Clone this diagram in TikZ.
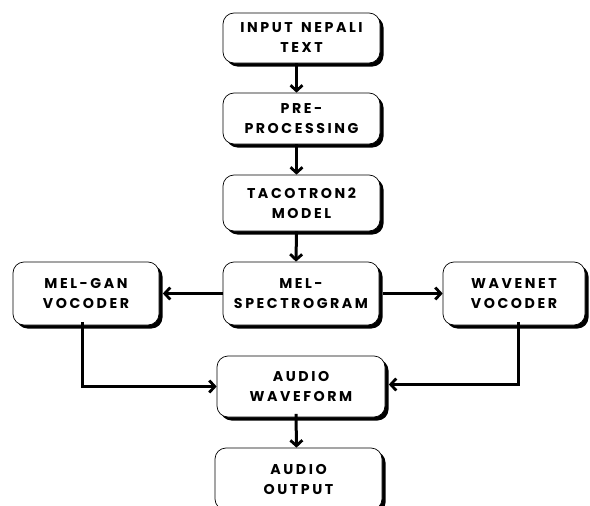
\documentclass[tikz,border=0pt]{standalone}
\usepackage{fontspec}
\newfontfamily\lblfont{Poppins}[LetterSpace=18,UprightFont=* Bold,WordSpace=1.5]
\usetikzlibrary{arrows.meta,shadows}
\begin{document}
\begin{tikzpicture}[x=1pt,y=-1pt,
  box/.style={draw=black,line width=0.7pt,fill=white,rounded corners=11pt,
    align=center,font=\lblfont\fontsize{14.2}{20}\selectfont,inner sep=0pt,
    drop shadow={shadow xshift=3.5pt,shadow yshift=-3.5pt,fill=black,opacity=1}},
  arr/.style={line width=3pt,-{Straight Barb[length=5.5pt,width=12pt,line width=2.8pt]}}]
\useasboundingbox (0,0) rectangle (590,506);
\clip (0,0) rectangle (590,506);
\node[box,minimum width=157pt,minimum height=50pt] (b1) at (301.5,38) {INPUT NEPALI\\TEXT};
\node[box,minimum width=157pt,minimum height=51pt] (b2) at (301.5,118.5) {PRE-\\PROCESSING};
\node[box,minimum width=157pt,minimum height=56pt] (b3) at (301.5,203) {TACOTRON2\\MODEL};
\node[box,minimum width=156pt,minimum height=63pt] (b4) at (301,293.5) {MEL-\\SPECTROGRAM};
\node[box,minimum width=146pt,minimum height=63pt] (mg) at (86,293.5) {MEL-GAN\\VOCODER};
\node[box,minimum width=142pt,minimum height=63pt] (wn) at (514,293.5) {WAVENET\\VOCODER};
\node[box,minimum width=168pt,minimum height=61pt] (wf) at (301,386.5) {AUDIO\\WAVEFORM};
\node[box,minimum width=167pt,minimum height=62pt] (ao) at (298.5,479) {AUDIO\\OUTPUT};
\draw[arr] ([xshift=-5pt]b1.south) -- ([xshift=-5pt]b2.north);
\draw[arr] ([xshift=-5pt]b2.south) -- ([xshift=-5pt]b3.north);
\draw[arr] ([xshift=-5pt]b3.south) -- ([xshift=-5pt]b4.north);
\draw[arr] (b4.west) -- ([xshift=3.5pt]mg.east);
\draw[arr] ([xshift=3.5pt]b4.east) -- (wn.west);
\draw[arr] ([xshift=-4pt,yshift=3.5pt]mg.south) |- (wf.west);
\draw[arr] ([xshift=4pt,yshift=3.5pt]wn.south) |- ([xshift=3.5pt,yshift=2pt]wf.east);
\draw[arr] ([xshift=-5pt,yshift=3.5pt]wf.south) -- ([xshift=-2pt]ao.north);
\end{tikzpicture}
\end{document}
